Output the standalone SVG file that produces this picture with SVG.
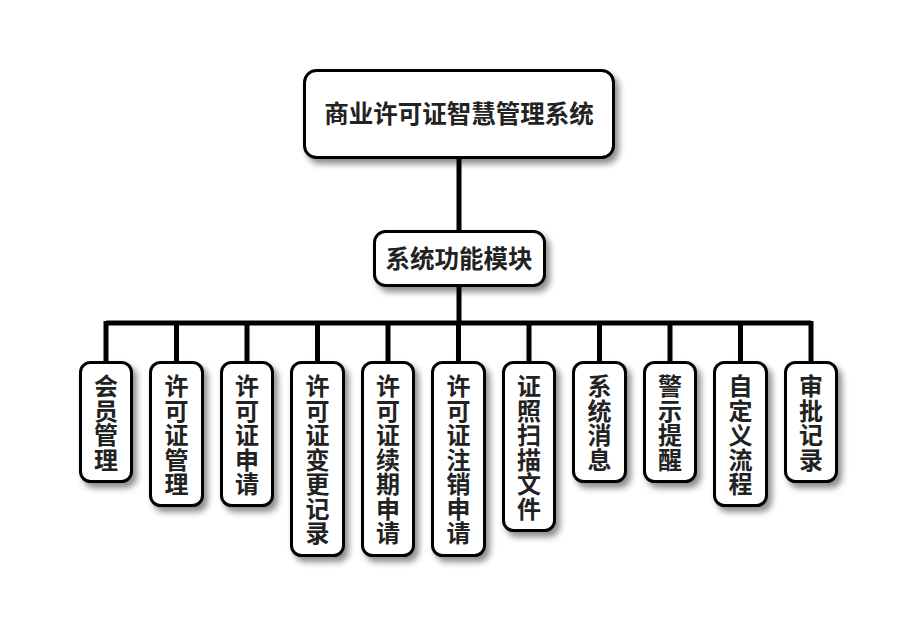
<svg xmlns="http://www.w3.org/2000/svg" width="917" height="632" viewBox="0 0 917 632">
<defs>
<filter id="sh" x="-30%" y="-30%" width="160%" height="160%">
<feDropShadow dx="4" dy="5" stdDeviation="3" flood-color="#000" flood-opacity="0.45"/>
</filter>
<style>
.box{fill:#fff;stroke:#000;stroke-width:3;filter:url(#sh)}
.t{font-family:"Noto Sans CJK SC","Noto Sans",sans-serif;font-weight:bold;fill:#222;text-anchor:middle}
.big{font-size:24.5px}
.leaf{font-size:24px;writing-mode:vertical-rl;text-anchor:start;letter-spacing:0.5px}
.c{stroke:#000;stroke-width:5;fill:none}
</style>
</defs>
<rect width="917" height="632" fill="#fff"/>
<g id="connectors">
<line class="c" x1="459" y1="158" x2="459" y2="231"/>
<line class="c" x1="459" y1="286" x2="459" y2="323"/>
<line class="c" x1="106" y1="323" x2="811" y2="323"/>
<path class="c" d="M106,321V362M176.5,321V362M247,321V362M317.5,321V362M388,321V362M458.5,321V362M529,321V362M599.5,321V362M670,321V362M740.5,321V362M811,321V362"/>
</g>
<g id="root">
<rect class="box" x="304.5" y="70.5" width="309" height="87" rx="12"/>
<text class="t big" x="459" y="122.5">商业许可证智慧管理系统</text>
</g>
<g id="module">
<rect class="box" x="374.5" y="231.5" width="170" height="54" rx="11"/>
<text class="t big" x="459" y="268">系统功能模块</text>
</g>
<g id="n1">
<rect class="box" x="80.5" y="362.5" width="51" height="119" rx="10"/>
<text class="t leaf" x="106" y="374">会员管理</text>
</g>
<g id="n2">
<rect class="box" x="150.5" y="362.5" width="52" height="143" rx="10"/>
<text class="t leaf" x="176.5" y="374">许可证管理</text>
</g>
<g id="n3">
<rect class="box" x="221.5" y="362.5" width="51" height="143" rx="10"/>
<text class="t leaf" x="247" y="374">许可证申请</text>
</g>
<g id="n4">
<rect class="box" x="291.5" y="362.5" width="52" height="193" rx="10"/>
<text class="t leaf" x="317.5" y="374">许可证变更记录</text>
</g>
<g id="n5">
<rect class="box" x="362.5" y="362.5" width="51" height="193" rx="10"/>
<text class="t leaf" x="388" y="374">许可证续期申请</text>
</g>
<g id="n6">
<rect class="box" x="432.5" y="362.5" width="52" height="193" rx="10"/>
<text class="t leaf" x="458.5" y="374">许可证注销申请</text>
</g>
<g id="n7">
<rect class="box" x="503.5" y="362.5" width="51" height="168" rx="10"/>
<text class="t leaf" x="529" y="374">证照扫描文件</text>
</g>
<g id="n8">
<rect class="box" x="573.5" y="362.5" width="52" height="119" rx="10"/>
<text class="t leaf" x="599.5" y="374">系统消息</text>
</g>
<g id="n9">
<rect class="box" x="644.5" y="362.5" width="51" height="119" rx="10"/>
<text class="t leaf" x="670" y="374">警示提醒</text>
</g>
<g id="n10">
<rect class="box" x="714.5" y="362.5" width="52" height="143" rx="10"/>
<text class="t leaf" x="740.5" y="374">自定义流程</text>
</g>
<g id="n11">
<rect class="box" x="785.5" y="362.5" width="51" height="119" rx="10"/>
<text class="t leaf" x="811" y="374">审批记录</text>
</g>
</svg>
